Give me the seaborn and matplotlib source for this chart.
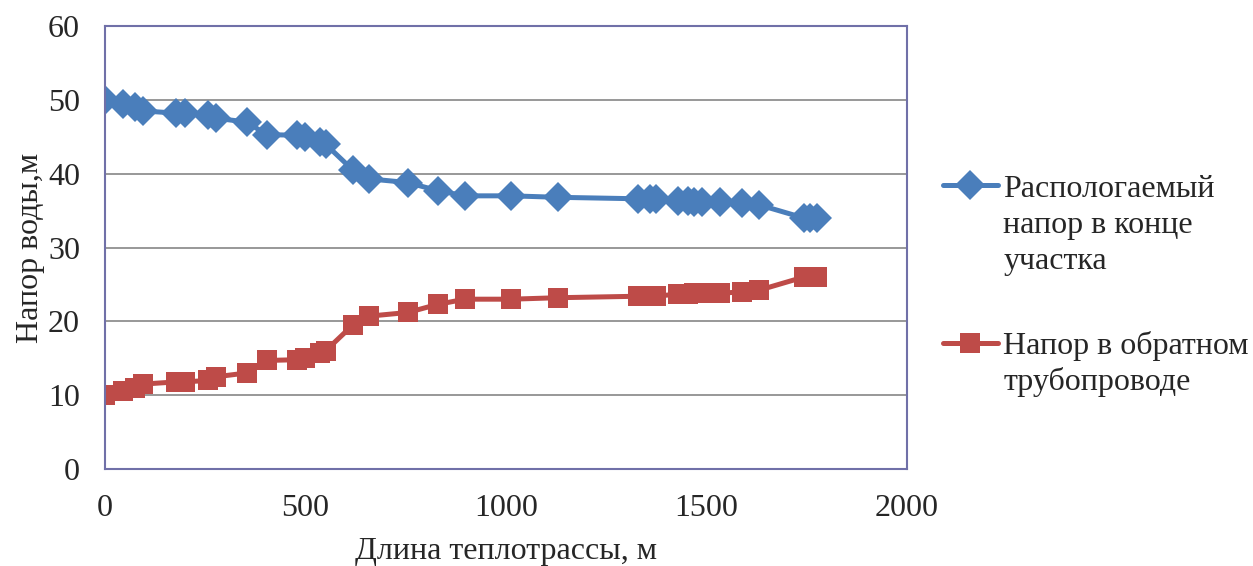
import matplotlib
matplotlib.use("Agg")
import matplotlib.pyplot as plt
import seaborn as sns
import pandas as pd

# distance along the heating main, m
length_m = [0, 45, 75, 95, 178, 200, 258, 278, 353, 403, 478, 498, 535, 550,
            618, 658, 755, 830, 898, 1013, 1130, 1330, 1358, 1375, 1428, 1453,
            1470, 1488, 1535, 1588, 1630, 1743, 1758, 1775]
# available head at section end, m
head_available = [50, 49.5, 49, 48.5, 48.2, 48.2, 48, 47.5, 47, 45.3, 45.2, 45,
                  44.3, 44, 40.5, 39.3, 38.8, 37.7, 37, 37, 36.8, 36.6, 36.6,
                  36.6, 36.3, 36.3, 36.2, 36.2, 36.2, 36, 35.8, 34, 34, 34]
# head in return pipe, m
head_return = [10, 10.5, 11, 11.5, 11.8, 11.8, 12, 12.5, 13, 14.7, 14.8, 15,
               15.7, 16, 19.5, 20.7, 21.2, 22.3, 23, 23, 23.2, 23.4, 23.4, 23.4,
               23.7, 23.7, 23.8, 23.8, 23.8, 24, 24.2, 26, 26, 26]

label_avail = "Распологаемый\nнапор в конце\nучастка"
label_return = "Напор в обратном\nтрубопроводе"

df = pd.concat([
    pd.DataFrame({"x": length_m, "y": head_available, "series": label_avail}),
    pd.DataFrame({"x": length_m, "y": head_return, "series": label_return}),
])

sns.set_style("white")
plt.rcParams["font.family"] = ["Liberation Serif", "DejaVu Serif"]
plt.rcParams["font.size"] = 23

fig = plt.figure(figsize=(12.53, 5.66), dpi=100)
ax = fig.add_axes([0.0838, 0.1714, 0.64, 0.7826])

sns.lineplot(data=df, x="x", y="y", hue="series", style="series",
             markers={label_avail: "D", label_return: "s"}, dashes=False,
             palette={label_avail: "#4a7ebb", label_return: "#be4b48"},
             sort=False, estimator=None, linewidth=3.6, markersize=15,
             markeredgewidth=0, ax=ax)

ax.set_xlim(0, 2000)
ax.set_ylim(0, 60)
ax.set_xticks([0, 500, 1000, 1500, 2000])
ax.set_yticks(range(0, 61, 10))
ax.yaxis.grid(True, color="#868686", linewidth=1.2)
ax.xaxis.grid(False)
ax.set_axisbelow(True)
for s in ax.spines.values():
    s.set_visible(True)
    s.set_color("#7070a8")
    s.set_linewidth(1.5)
ax.tick_params(axis="both", direction="out", length=6, width=1.2,
               color="#868686")
ax.tick_params(axis="y", pad=12)
ax.tick_params(axis="x", pad=12)
ax.set_xlabel("Длина теплотрассы, м", labelpad=10)
ax.set_ylabel("Напор воды,м", labelpad=2)

# legend: handle sits on the first line of each label, like Excel does
handles, labels = ax.get_legend_handles_labels()
first_lines = [l.split("\n")[0] for l in labels]
leg = ax.legend(handles, first_lines, loc="center left",
                bbox_to_anchor=(1.045, 0.454), frameon=False,
                handlelength=1.72, handletextpad=0.16, labelspacing=4.0,
                borderaxespad=0, borderpad=0)

fig.canvas.draw()
line_step = 36  # px between wrapped legend lines
for txt, full in zip(leg.get_texts(), labels):
    bb = txt.get_window_extent()
    x0, yb = txt.get_transform().transform(txt.get_position())
    for k, line in enumerate(full.split("\n")[1:], start=1):
        fig.text(bb.x0 / fig.bbox.width, (yb - k * line_step) / fig.bbox.height,
                 line, va="baseline", ha="left")

fig.savefig("out.png", dpi=100)
